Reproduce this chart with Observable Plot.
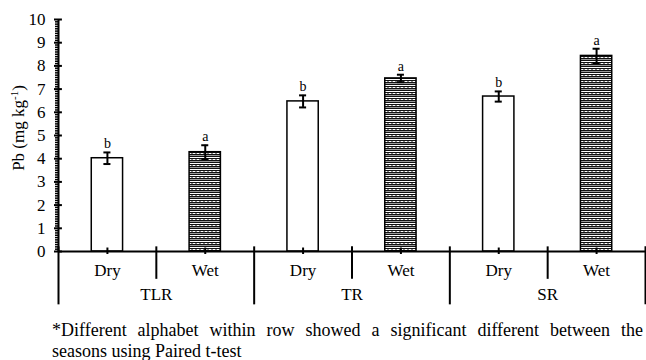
<!DOCTYPE html>
<html>
<head>
<meta charset="utf-8">
<script src="https://cdn.jsdelivr.net/npm/d3@7"></script>
<script src="https://cdn.jsdelivr.net/npm/@observablehq/plot@0.6"></script>
<style>
  body { margin: 0; background: #fff; font-family: "Liberation Serif", "Times New Roman", serif; }
  .cap { font-family: "Liberation Serif", "Times New Roman", serif; font-size: 18px; line-height: 21px;
    margin-left: 52px; width: 591px; color: #000; }
  #cap1 { text-align: justify; text-align-last: justify; margin-top: 8px; }
</style>
</head>
<body>
<div id="chart"></div>
<div class="cap" id="cap1">*Different alphabet within row showed a significant different between the</div>
<div class="cap" id="cap2">seasons using Paired t-test</div>
<script>
const sites = ["TLR", "TR", "SR"];
const seasons = ["Dry", "Wet"];
const means = [4.02, 4.28, 6.47, 7.46, 6.68, 8.43];
const errs = [0.25, 0.30, 0.26, 0.16, 0.22, 0.31];
const letters = ["b", "a", "b", "a", "b", "a"];
const yMajor = d3.range(0, 11);
const yMinor = d3.range(0, 100).map(i => i / 10).filter(v => Math.abs(v - Math.round(v)) > 1e-9);

const data = [];
sites.forEach((s, si) => seasons.forEach((se, ei) => {
  const i = si * seasons.length + ei;
  data.push({site: s, season: se, i, mean: means[i], err: errs[i], letter: letters[i]});
}));
const nCat = data.length;
const half = 0.16; // half bar width in category units
const cap = 0.036;
const FONT = "'Liberation Serif', 'Times New Roman', serif";

const plot = Plot.plot({
  width: 646,
  height: 312,
  marginLeft: 58,
  marginRight: 1,
  marginTop: 19,
  marginBottom: 61,
  style: {fontFamily: FONT, fontSize: "17px", color: "#000", background: "#fff"},
  x: {domain: [0, nCat], axis: null},
  y: {domain: [0, 10], axis: null},
  marks: [
    // bars
    Plot.rectY(data.filter(d => d.season === "Dry"), {x1: d => d.i + 0.5 - half, x2: d => d.i + 0.5 + half, y: "mean", fill: "white", stroke: "black", strokeWidth: 1.5}),
    Plot.rectY(data.filter(d => d.season === "Wet"), {x1: d => d.i + 0.5 - half, x2: d => d.i + 0.5 + half, y: "mean", fill: "url(#wetpat)", stroke: "black", strokeWidth: 1.5}),
    // error bars
    Plot.ruleX(data, {x: d => d.i + 0.5, y1: d => d.mean - d.err, y2: d => d.mean + d.err, stroke: "black", strokeWidth: 2}),
    Plot.ruleY(data, {y: d => d.mean - d.err, x1: d => d.i + 0.5 - cap, x2: d => d.i + 0.5 + cap, stroke: "black", strokeWidth: 2}),
    Plot.ruleY(data, {y: d => d.mean + d.err, x1: d => d.i + 0.5 - cap, x2: d => d.i + 0.5 + cap, stroke: "black", strokeWidth: 2}),
    Plot.text(data, {x: d => d.i + 0.5, y: d => d.mean + d.err, text: "letter", dy: -4, lineAnchor: "bottom", fontSize: 14, fontFamily: FONT}),
    // y axis
    Plot.ruleX([0], {y1: 0, y2: 10, stroke: "black", strokeWidth: 2}),
    Plot.axisY({ticks: yMinor, tickSize: 3, tickFormat: () => "", label: null, strokeWidth: 1.5}),
    Plot.axisY({ticks: yMajor, tickSize: 4, tickPadding: 9, strokeWidth: 2, fontSize: 17, label: null, fontFamily: FONT}),
    Plot.ruleY(yMajor, {y: d => d, x1: 0, x2: 0.04, stroke: "black", strokeWidth: 2}),
    // x axis
    Plot.ruleY([0], {x1: 0, x2: nCat, stroke: "black", strokeWidth: 2}),
    Plot.ruleX(data, {x: d => d.i + 0.5, y1: 0.15, y2: -0.13, stroke: "black", strokeWidth: 2}),
    Plot.ruleX(data.filter(d => d.season === "Dry"), {x: d => d.i + 1, y1: 0.2, y2: -1.2, stroke: "black", strokeWidth: 2}),
    Plot.ruleX(d3.range(0, sites.length + 1), {x: d => d * seasons.length, y1: 0.2, y2: -2.3, stroke: "black", strokeWidth: 2}),
    Plot.text(data, {x: d => d.i + 0.5, y: -0.8, text: "season", fontSize: 17, fontFamily: FONT}),
    Plot.text(sites, {x: (d, k) => k * seasons.length + seasons.length / 2, y: -1.85, text: d => d, fontSize: 17, fontFamily: FONT})
  ]
});

// pattern for wet bars
const svg = d3.select(plot);
const defs = svg.insert("defs", ":first-child");
const pat = defs.append("pattern").attr("id", "wetpat").attr("patternUnits", "userSpaceOnUse")
  .attr("width", 8).attr("height", 6);
pat.append("rect").attr("width", 8).attr("height", 6).attr("fill", "#111");
pat.append("rect").attr("y", 1).attr("width", 8).attr("height", 1).attr("fill", "#fff");
pat.append("rect").attr("x", 0.5).attr("y", 3).attr("width", 3).attr("height", 1).attr("fill", "#fff");
pat.append("rect").attr("x", 4.5).attr("y", 3).attr("width", 3).attr("height", 1).attr("fill", "#fff");
pat.append("rect").attr("y", 5).attr("width", 8).attr("height", 0.8).attr("fill", "#bbb");

// y label with superscript
const lbl = svg.append("text")
  .attr("transform", "translate(24,128) rotate(-90)")
  .attr("text-anchor", "middle")
  .attr("font-family", FONT)
  .attr("font-size", 17)
  .attr("fill", "black");
lbl.append("tspan").text("Pb (mg kg");
lbl.append("tspan").attr("font-size", 11).attr("dy", -6).text("-1");
lbl.append("tspan").attr("dy", 6).text(")");

document.getElementById("chart").appendChild(plot);
</script>
</body>
</html>
